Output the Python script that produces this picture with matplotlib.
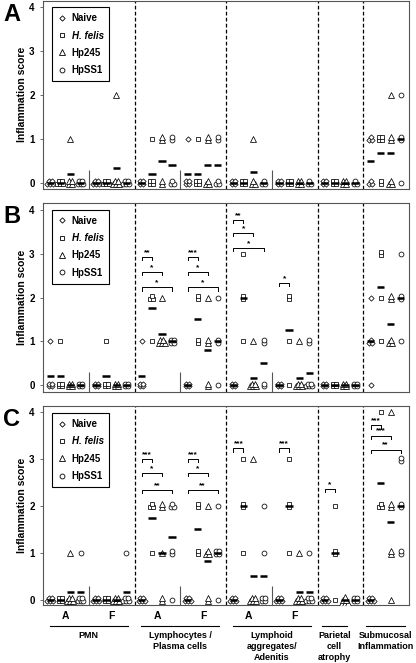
import matplotlib.pyplot as plt
from matplotlib.lines import Line2D

plt.rcParams['font.family'] = ['Liberation Sans', 'DejaVu Sans']
plt.rcParams['font.weight'] = 'bold'

groups = ['Naive', 'H. felis', 'Hp245', 'HpSS1']
markers = ['D', 's', '^', 'o']
marker_sizes = [2.7, 3.3, 3.7, 3.5]
group_pos = [0.16, 0.38, 0.6, 0.82]

# columns: PMN A, PMN F, Lymphocytes A, F, Lymphoid aggr. A, F, atrophy, submucosal
# each group: number of mice scoring 0, 1, 2, 3, 4
counts_a = [
    [(5,), (5,), (4, 1), (5,)],
    [(5,), (5,), (5, 0, 1), (5,)],
    [(4,), (4, 1), (2, 2), (3, 2)],
    [(4, 1), (4, 1), (3, 2), (3, 2)],
    [(4,), (4,), (3, 1), (3,)],
    [(4,), (4,), (4,), (3,)],
    [(4,), (4,), (4,), (3,)],
    [(3, 3), (2, 4), (3, 2, 1), (1, 2, 1)],
]
counts_b = [
    [(4, 1), (4, 1), (4,), (4,)],
    [(4,), (4, 1), (4,), (4,)],
    [(4, 1), (0, 1, 3), (0, 5, 1), (0, 4)],
    [(4,), (0, 2, 2), (2, 2, 1), (1, 2, 1)],
    [(4,), (0, 1, 2, 1), (5, 1), (2, 2)],
    [(4,), (1, 1, 2), (5, 1), (5, 2)],
    [(4,), (4,), (4,), (4,)],
    [(1, 3, 1), (0, 1, 1, 2), (0, 3, 2), (0, 1, 2, 1)],
]
counts_c = [
    [(5,), (4,), (5, 1), (5, 1)],
    [(5,), (4,), (5,), (5, 1)],
    [(5,), (0, 1, 3), (2, 1, 2), (1, 2, 3)],
    [(5,), (0, 2, 2), (2, 3, 1), (1, 4, 1)],
    [(5,), (0, 1, 2, 1), (5, 0, 0, 1), (4, 1, 1)],
    [(5,), (0, 1, 2, 1), (5, 1), (5, 1)],
    [(5,), (1, 2, 1), (6,), (4,)],
    [(5,), (0, 0, 3, 0, 1), (1, 2, 2, 0, 1), (0, 2, 2, 2)],
]

# significance: (column, group i, group j, height, label)
stars_b = [
    (2, 0, 1, 2.93, '**'), (2, 0, 2, 2.58, '*'), (2, 0, 3, 2.23, '*'),
    (3, 0, 1, 2.93, '***'), (3, 0, 2, 2.58, '*'), (3, 0, 3, 2.23, '*'),
    (4, 0, 1, 3.77, '**'), (4, 0, 2, 3.47, '*'), (4, 0, 3, 3.13, '*'),
    (5, 0, 1, 2.33, '*'),
]
stars_c = [
    (2, 0, 1, 3.0, '***'), (2, 0, 2, 2.7, '*'), (2, 0, 3, 2.34, '**'),
    (3, 0, 1, 3.0, '***'), (3, 0, 2, 2.7, '*'), (3, 0, 3, 2.34, '**'),
    (4, 0, 1, 3.23, '***'), (5, 0, 1, 3.23, '***'),
    (6, 0, 1, 2.36, '*'),
    (7, 0, 1, 3.72, '***'), (7, 0, 2, 3.5, '***'), (7, 0, 3, 3.2, '**'),
]

sub_labels = ['A', 'F', 'A', 'F', 'A', 'F']
sections = ['PMN', 'Lymphocytes /\nPlasma cells', 'Lymphoid\naggregates/\nAdenitis',
            'Parietal\ncell\natrophy', 'Submucosal\nInflammation']
section_lines = [(0.15, 1.85), (2.15, 3.85), (4.15, 5.85), (6.1, 6.64), (7.07, 7.91)]


def spread(k, dx=0.065, dy=0.065):
    # arrange k identical scores in a small heap
    if k == 1:
        return [(0, 0)]
    if k == 2:
        return [(0, -0.5 * dy), (0, 0.5 * dy)]
    if k == 3:
        return [(-0.5 * dx, -0.5 * dy), (0.5 * dx, -0.5 * dy), (0, 0.5 * dy)]
    if k == 4:
        return [(sx * 0.5 * dx, sy * 0.5 * dy) for sy in (-1, 1) for sx in (-1, 1)]
    rows = []
    left = k
    w = 3
    while left > 0:
        n = min(w, left)
        rows.append(n)
        left -= n
        w = 2 if w == 3 else 3
    pts = []
    for r, n in enumerate(rows):
        y = (r - (len(rows) - 1) / 2) * dy
        for i in range(n):
            pts.append(((i - (n - 1) / 2) * dx, y))
    return pts


def draw_panel(ax, counts, ylim, stars):
    ax.set_xlim(0, 8)
    ax.set_ylim(*ylim)
    for c, col in enumerate(counts):
        for g, cnt in enumerate(col):
            xc = c + group_pos[g]
            xs, ys = [], []
            total, n = 0, 0
            for score, k in enumerate(cnt):
                for ox, oy in (spread(k) if k else []):
                    xs.append(xc + ox)
                    ys.append(score + oy)
                total += score * k
                n += k
            ax.plot(xs, ys, ls='none', marker=markers[g], ms=marker_sizes[g],
                    mfc='white', mec='black', mew=0.55, zorder=3)
            ax.hlines(total / n, xc - 0.08, xc + 0.08, color='black', lw=1.8, zorder=4)
    for x in (2, 4, 6, 7):
        ax.axvline(x, color='black', lw=0.9, ls=(0, (3, 1.8)), zorder=1)
    ax.vlines([1, 3, 5], ylim[0], 0.3, color='#555555', lw=0.8)
    for c, i, j, h, lab in stars:
        x1, x2 = c + group_pos[i], c + group_pos[j]
        ax.plot([x1, x1, x2, x2], [h - 0.07, h, h, h - 0.07], color='black', lw=0.7)
        ax.text((x1 + x2) / 2, h + 0.02, lab, ha='center', va='bottom', fontsize=6)
    ax.set_xticks([])
    ax.set_yticks([0, 1, 2, 3, 4])
    ax.tick_params(axis='y', length=2, width=0.6, pad=4, labelsize=7, color='#555555')
    for s in ax.spines.values():
        s.set_color('#555555')
        s.set_linewidth(0.8)
    handles = [Line2D([], [], ls='none', marker=m, ms=ms, mfc='white', mec='black', mew=0.6)
               for m, ms in zip(markers, marker_sizes)]
    leg = ax.legend(handles, groups, loc='upper left', bbox_to_anchor=(0.025, 0.963),
                    fancybox=False, edgecolor='black', framealpha=1, fontsize=7,
                    handlelength=0.8, handletextpad=0.6, labelspacing=0.75,
                    borderpad=0.6, borderaxespad=0)
    leg.get_frame().set_linewidth(0.8)
    leg.get_texts()[1].set_fontstyle('italic')


fig = plt.figure(figsize=(4.16, 6.63), dpi=100)
W, H = 416, 663
panels = [('A', 0.5, 189, counts_a, (-0.14, 4.14), []),
          ('B', 203, 392, counts_b, (-0.16, 4.16), stars_b),
          ('C', 406, 605, counts_c, (-0.11, 4.13), stars_c)]
for letter, top, bottom, counts, ylim, stars in panels:
    ax = fig.add_axes([43 / W, 1 - bottom / H, 366 / W, (bottom - top) / H])
    draw_panel(ax, counts, ylim, stars)
    fig.text(12 / W, 1 - (top + 14) / H, letter, fontsize=17, ha='center', va='center')
    fig.text(22 / W, 1 - (top + bottom) / 2 / H, 'Inflammation score', fontsize=7.5,
             rotation=90, ha='center', va='center')

trans = ax.get_xaxis_transform()
for i, lab in enumerate(sub_labels):
    ax.text(i + 0.5, -0.055, lab, transform=trans, ha='center', va='center', fontsize=7.5)
for lab, (x1, x2) in zip(sections, section_lines):
    ax.plot([x1, x2], [-0.106, -0.106], transform=trans, color='black', lw=0.8, clip_on=False)
    ax.text((x1 + x2) / 2, -0.13, lab, transform=trans, ha='center', va='top',
            fontsize=6.5, linespacing=1.3)

fig.savefig('out.png', dpi=100)
